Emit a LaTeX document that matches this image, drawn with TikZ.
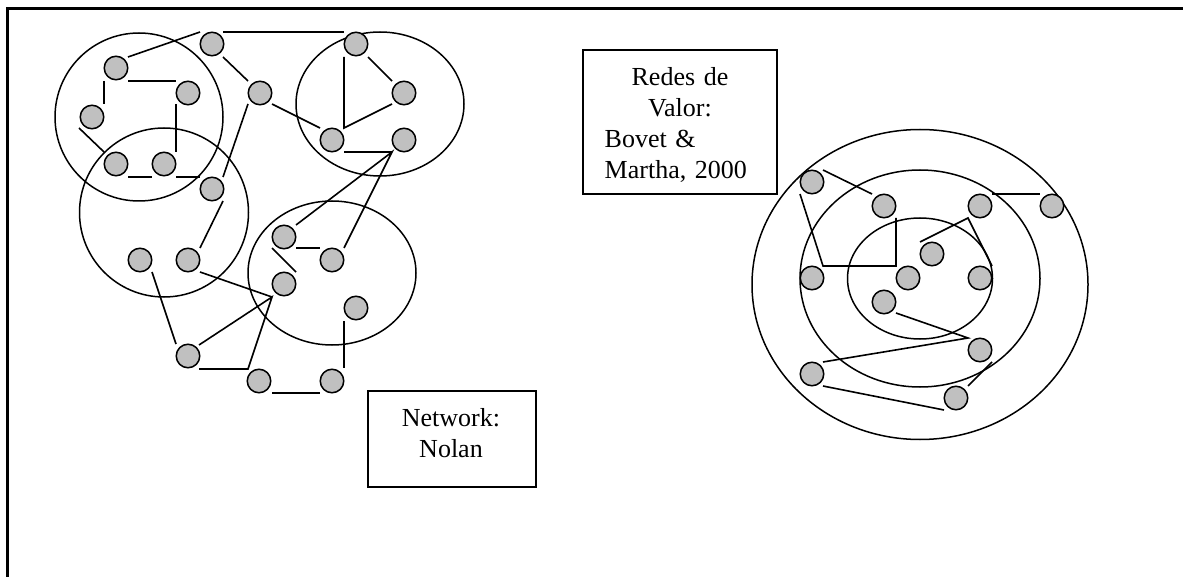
\documentclass[tikz,border=0pt]{standalone}
\usepackage{fontspec}
\setmainfont{Liberation Serif}
\usetikzlibrary{calc,backgrounds}
\definecolor{dotgray}{RGB}{192,192,192}
\tikzset{
  dot/.style={circle, draw=black, fill=dotgray, line width=1.5pt, minimum size=23.5pt, inner sep=0pt, outer sep=0pt},
  ring/.style={draw=black, line width=1.5pt},
  link/.style={draw=black, line width=1.6pt},
  frameline/.style={draw=black, line width=3pt},
  box/.style={draw=black, line width=1.7pt, inner sep=0pt, outer sep=0pt},
  txt/.style={font=\fontsize{26}{30.7}\selectfont, inner sep=0pt, outer sep=0pt}
}
\begin{document}
\begin{tikzpicture}[x=1pt, y=-1pt]
\useasboundingbox (0,0) rectangle (1183,577);
% frame
\draw[frameline] (7.5,577) -- (7.5,9) -- (1183,9);

% ---- left network nodes
\node[dot] (Lt1) at (212,44) {};
\node[dot] (Lt2) at (356,44) {};
\node[dot] (La) at (116,68) {};
\node[dot] (Lb) at (188,93) {};
\node[dot] (Lc) at (92,117) {};
\node[dot] (Ld) at (116,164) {};
\node[dot] (Le) at (164,164) {};
\node[dot] (Lf) at (260,93) {};
\node[dot] (Lg) at (404,93) {};
\node[dot] (Lh) at (332,140) {};
\node[dot] (Li) at (404,140) {};
\node[dot] (Lj) at (212,189) {};
\node[dot] (Lk) at (140,260) {};
\node[dot] (Ll) at (188,260) {};
\node[dot] (Lm) at (284,237) {};
\node[dot] (Ln) at (332,260) {};
\node[dot] (Lo) at (284,284) {};
\node[dot] (Lp) at (356,308) {};
\node[dot] (Lq) at (259,381) {};
\node[dot] (Lr) at (332,381) {};
\node[dot] (Ls) at (188,356) {};

% ---- right network nodes
\node[dot] (RA) at (812,182) {};
\node[dot] (RB) at (884,206) {};
\node[dot] (RC) at (980,206) {};
\node[dot] (RD) at (1052,206) {};
\node[dot] (RE) at (932,254) {};
\node[dot] (RF) at (812,278) {};
\node[dot] (RG) at (908,278) {};
\node[dot] (RH) at (980,278) {};
\node[dot] (RI) at (884,302) {};
\node[dot] (RJ) at (980,350) {};
\node[dot] (RK) at (812,374) {};
\node[dot] (RL) at (956,398) {};

% ---- text boxes
\node[box, minimum width=168pt, minimum height=96pt] (nolanbox) at (452,439) {};
\node[txt, align=center] (nolantxt) at (451,433) {Network:\\Nolan};
\node[box, minimum width=194pt, minimum height=144pt] (redesbox) at (680,122) {};
\node[txt, text width=150.6pt, align=left] (redestxt) at (680,125)
  {\makebox[150.6pt]{Redes de}\\\makebox[150.6pt]{Valor:}\\Bovet \&\\Martha, 2000};

\begin{pgfonlayer}{background}
% clusters
\draw[ring] (139,117) circle[radius=84pt];
\draw[ring] (164,212.5) circle[radius=84.5pt];
\draw[ring] (380,104) ellipse[x radius=84pt, y radius=72pt];
\draw[ring] (332,273) ellipse[x radius=84pt, y radius=72pt];
\draw[ring] (920,284.5) ellipse[x radius=168pt, y radius=155pt];
\draw[ring] (920,278.5) ellipse[x radius=120pt, y radius=108.5pt];
\draw[ring] (920,278.5) ellipse[x radius=72.5pt, y radius=60.5pt];

% left links
\draw[link] ($(La)+(12,-11)$) -- ($(Lt1)+(-12,-12)$);
\draw[link] ($(Lt1)+(11,-12)$) -- ($(Lt2)+(-12,-12)$);
\draw[link] ($(La)+(12,13)$) -- ($(Lb)+(-12,-12)$);
\draw[link] ($(Lb)+(-12,11)$) -- ($(Le)+(12,-12)$);
\draw[link] ($(La)+(-12,13)$) -- ($(Lc)+(12,-13)$);
\draw[link] ($(Lc)+(-13,11)$) -- ($(Ld)+(-12,-12)$);
\draw[link] ($(Ld)+(12,13)$) -- ($(Le)+(-12,13)$);
\draw[link] ($(Le)+(12,13)$) -- ($(Lj)+(-12,-12)$);
\draw[link] ($(Lt1)+(11,13)$) -- ($(Lf)+(-12,-12)$);
\draw[link] ($(Lf)+(-12,11)$) -- ($(Lj)+(11,-12)$);
\draw[link] ($(Lf)+(12,11)$) -- ($(Lh)+(-12,-12)$);
\draw[link] ($(Lt2)+(-12,13)$) -- ($(Lh)+(12,-12)$) -- ($(Lg)+(-12,11)$);
\draw[link] ($(Lt2)+(12,13)$) -- ($(Lg)+(-12,-12)$);
\draw[link] ($(Lh)+(12,12)$) -- ($(Li)+(-12,12)$);
\draw[link] ($(Lm)+(12,-12)$) -- ($(Li)+(-12,12)$) -- ($(Ln)+(12,-12)$);
\draw[link] ($(Lj)+(11,12)$) -- ($(Ll)+(12,-12)$);
\draw[link] ($(Lm)+(12,11)$) -- ($(Ln)+(-12,-12)$);
\draw[link] ($(Lm)+(-12,11)$) -- ($(Lo)+(12,-12)$);
\draw[link] ($(Ll)+(12,12)$) -- ($(Lo)+(-12,13)$);
\draw[link] ($(Ls)+(11,-11)$) -- ($(Lo)+(-12,13)$) -- ($(Lq)+(-11,-12)$) -- ($(Ls)+(11,13)$);
\draw[link] ($(Lk)+(12,12)$) -- ($(Ls)+(-12,-12)$);
\draw[link] ($(Lq)+(13,12)$) -- ($(Lr)+(-12,12)$);
\draw[link] ($(Lp)+(-12,13)$) -- ($(Lr)+(12,-13)$);

% right links
\draw[link] ($(RA)+(11,-12)$) -- ($(RB)+(-12,-12)$);
\draw[link] ($(RA)+(-12,12)$) -- ($(RF)+(11,-12)$) -- ($(RG)+(-12,-12)$) -- ($(RB)+(12,12)$);
\draw[link] ($(RC)+(12,-12)$) -- ($(RD)+(-12,-12)$);
\draw[link] ($(RE)+(-12,-12)$) -- ($(RC)+(-12,12)$) -- ($(RH)+(12,-12)$);
\draw[link] ($(RI)+(12,11)$) -- ($(RJ)+(-12,-12)$) -- ($(RK)+(11,-12)$);
\draw[link] ($(RJ)+(12,12)$) -- ($(RL)+(12,-12)$);
\draw[link] ($(RK)+(11,12)$) -- ($(RL)+(-12,12)$);
\end{pgfonlayer}
\end{tikzpicture}
\end{document}
